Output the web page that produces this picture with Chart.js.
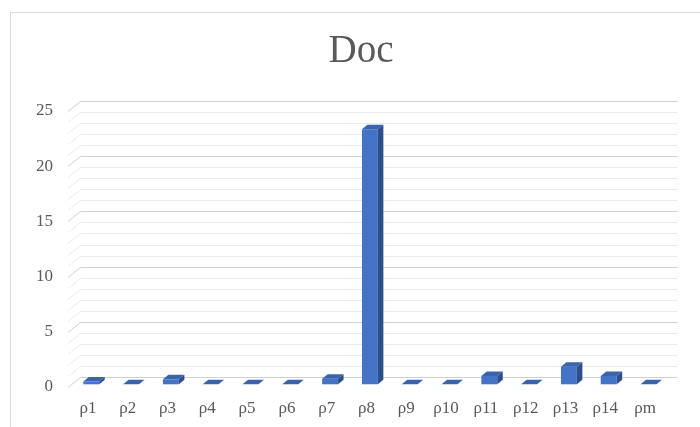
<!DOCTYPE html>
<html>
<head>
<meta charset="utf-8">
<script src="https://cdn.jsdelivr.net/npm/chart.js@4.4.1/dist/chart.umd.min.js"></script>
<style>
  html, body { margin: 0; padding: 0; background: #fff; overflow: hidden; }
  #frame { position: absolute; left: 10px; top: 12px; width: 740px; height: 440px;
           border-left: 1px solid #d9d9d9; border-top: 1px solid #d9d9d9; }
  #wrap { position: absolute; left: 0; top: 0; width: 722px; height: 427px; }
</style>
</head>
<body>
<div id="frame"></div>
<div id="wrap"><canvas id="c" width="722" height="427"></canvas></div>
<script>
// Categories and values of the "Doc" series
const categories = ['ρ1', 'ρ2', 'ρ3', 'ρ4', 'ρ5', 'ρ6', 'ρ7', 'ρ8', 'ρ9', 'ρ10', 'ρ11', 'ρ12', 'ρ13', 'ρ14', 'ρm'];
const docValues  = [0.25, 0, 0.45, 0, 0, 0, 0.5, 23.1, 0, 0, 0.75, 0, 1.6, 0.75, 0];
const yTickValues = [0, 5, 10, 15, 20, 25];
const chartTitle = 'Doc';

// Pseudo-3D geometry (pixels)
const WALL_DX = 12.5, WALL_DY = -10;   // depth of the back wall
const BAR_OX = 3.4,  BAR_OY = -2.7;    // bars sit a little behind the front plane
const BAR_DX = 5.5,  BAR_DY = -4.5;    // depth of each column

const FRONT = '#4472c4', TOP = '#3a63ab', SIDE = '#2c4e8a';

// Title centred on the outer chart frame, which runs past the right edge
const titlePlugin = {
  id: 'frameTitle',
  afterDraw(chart) {
    const ctx = chart.ctx;
    ctx.save();
    ctx.font = "39px 'Liberation Serif', 'Times New Roman', serif";
    ctx.fillStyle = '#595959';
    ctx.textAlign = 'center';
    ctx.textBaseline = 'alphabetic';
    ctx.fillText(chartTitle, 361, 62);
    ctx.restore();
  }
};

const depthPlugin = {
  id: 'depth3d',
  beforeDatasetsDraw(chart) {
    const { ctx, chartArea: a, scales: { y } } = chart;
    ctx.save();
    ctx.lineWidth = 1;
    for (let v = y.min; v <= y.max; v++) {
      const py = Math.round(y.getPixelForValue(v)) + 0.5;
      ctx.strokeStyle = (v % 5 === 0) ? '#d0d0d0' : '#eaeaea';
      ctx.beginPath();
      ctx.moveTo(a.left, py);
      ctx.lineTo(a.left + WALL_DX, py + WALL_DY);
      ctx.lineTo(a.right + WALL_DX, py + WALL_DY);
      ctx.stroke();
    }
    ctx.restore();
    ctx.save();
    ctx.translate(BAR_OX, BAR_OY);
  },
  afterDatasetsDraw(chart) {
    const ctx = chart.ctx;
    chart.getDatasetMeta(0).data.forEach(bar => {
      const { x, y, base, width } = bar.getProps(['x', 'y', 'base', 'width'], true);
      const x1 = x - width / 2, x2 = x + width / 2;
      // top face
      ctx.fillStyle = TOP;
      ctx.beginPath();
      ctx.moveTo(x1, y);
      ctx.lineTo(x1 + BAR_DX, y + BAR_DY);
      ctx.lineTo(x2 + BAR_DX, y + BAR_DY);
      ctx.lineTo(x2, y);
      ctx.closePath();
      ctx.fill();
      // side face
      if (base - y > 0.01) {
        ctx.fillStyle = SIDE;
        ctx.beginPath();
        ctx.moveTo(x2, y);
        ctx.lineTo(x2 + BAR_DX, y + BAR_DY);
        ctx.lineTo(x2 + BAR_DX, base + BAR_DY);
        ctx.lineTo(x2, base);
        ctx.closePath();
        ctx.fill();
      }
    });
    ctx.restore();
  }
};

Chart.defaults.font.family = "'Liberation Serif', 'Times New Roman', serif";
Chart.defaults.color = '#595959';

new Chart(document.getElementById('c'), {
  type: 'bar',
  data: {
    labels: categories,
    datasets: [{
      label: chartTitle,
      data: docValues,
      backgroundColor: FRONT,
      borderWidth: 0,
      categoryPercentage: 1,
      barPercentage: 0.4,
      clip: false
    }]
  },
  options: {
    responsive: false,
    animation: false,
    layout: { padding: { left: 10, right: 57, top: 111, bottom: 0 } },
    plugins: {
      legend: { display: false },
      tooltip: { enabled: false },
      title: { display: false }
    },
    scales: {
      x: {
        grid: { display: false, drawTicks: false },
        border: { display: false },
        ticks: { font: { size: 17 }, padding: 11, maxRotation: 0, autoSkip: false },
        afterFit(s) { s.height = 40; }
      },
      y: {
        min: 0,
        max: 25,
        grid: { display: false, drawTicks: false },
        border: { display: false },
        ticks: { font: { size: 17 }, padding: 15, stepSize: 5 },
        afterBuildTicks(s) { s.ticks = yTickValues.map(v => ({ value: v })); },
        afterFit(s) { s.width = 58; }
      }
    }
  },
  plugins: [depthPlugin, titlePlugin]
});
</script>
</body>
</html>
